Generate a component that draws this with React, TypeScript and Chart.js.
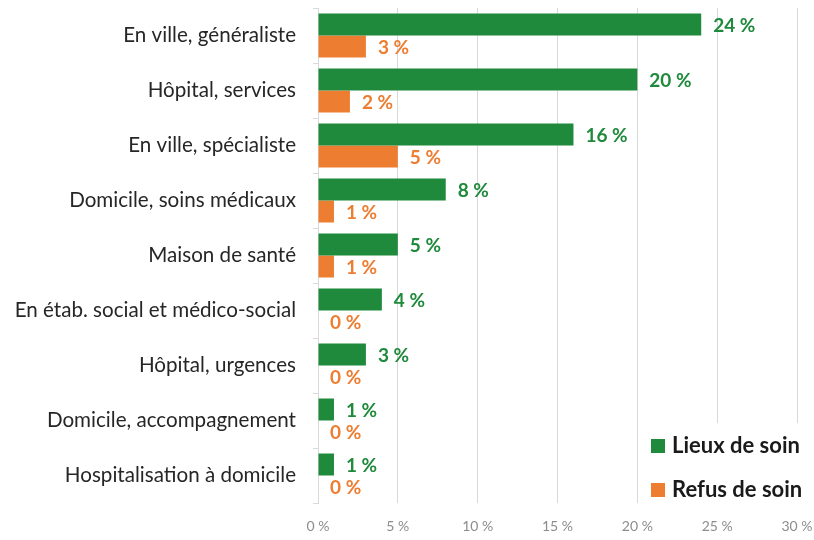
import React, { useEffect, useRef } from "react";
import { Chart, registerables } from "chart.js";

Chart.register(...registerables);

const categories = [
  "En ville, généraliste",
  "Hôpital, services",
  "En ville, spécialiste",
  "Domicile, soins médicaux",
  "Maison de santé",
  "En étab. social et médico-social",
  "Hôpital, urgences",
  "Domicile, accompagnement",
  "Hospitalisation à domicile",
];
const lieuxDeSoin = [24, 20, 16, 8, 5, 4, 3, 1, 1];
const refusDeSoin = [3, 2, 5, 1, 1, 0, 0, 0, 0];
const seriesNames = ["Lieux de soin", "Refus de soin"];
const GREEN = "#1f8a3b";
const ORANGE = "#ed7d31";
const FONT = "Lato, 'Open Sans', sans-serif";

const labelPlugin = {
  id: "valueLabels",
  afterDatasetsDraw(chart: any) {
    const ctx = chart.ctx;
    ctx.save();
    ctx.font = `bold 19px ${FONT}`;
    ctx.textBaseline = "middle";
    ctx.textAlign = "left";
    chart.data.datasets.forEach((ds: any, i: number) => {
      const meta = chart.getDatasetMeta(i);
      ctx.fillStyle = ds.backgroundColor;
      meta.data.forEach((el: any, j: number) => {
        ctx.fillText(`${ds.data[j]} %`, el.x + 12, el.y + 1);
      });
    });
    ctx.restore();
  },
};

const legendPlugin = {
  id: "insideLegend",
  afterDraw(chart: any) {
    const ctx = chart.ctx;
    const a = chart.chartArea;
    ctx.save();
    ctx.fillStyle = "#ffffff";
    ctx.fillRect(a.right - 158, a.bottom - 80, 178, 80);
    ctx.font = `bold 22px ${FONT}`;
    ctx.textBaseline = "middle";
    ctx.textAlign = "left";
    chart.data.datasets.forEach((ds: any, i: number) => {
      const y = a.bottom - 57 + i * 44;
      const x = a.right - 146;
      ctx.fillStyle = ds.backgroundColor;
      ctx.fillRect(x, y - 7, 14, 14);
      ctx.fillStyle = "#1a1a1a";
      ctx.fillText(ds.label, x + 21, y);
    });
    ctx.restore();
  },
};

const zeroPad = (s: any) => {
  s.paddingTop = 0;
  s.paddingBottom = 0;
  s.paddingLeft = 0;
  s.paddingRight = 0;
};

export default function App() {
  const ref = useRef<HTMLCanvasElement>(null);
  useEffect(() => {
    const chart = new Chart(ref.current!, {
      type: "bar",
      data: {
        labels: categories,
        datasets: [
          { label: seriesNames[0], data: lieuxDeSoin, backgroundColor: GREEN },
          { label: seriesNames[1], data: refusDeSoin, backgroundColor: ORANGE },
        ],
      },
      options: {
        indexAxis: "y",
        animation: false,
        responsive: false,
        maintainAspectRatio: false,
        layout: { padding: { top: 8, right: 17, left: 0, bottom: 0 } },
        datasets: { bar: { categoryPercentage: 0.8, barPercentage: 1.0 } },
        plugins: { legend: { display: false }, tooltip: { enabled: false } },
        scales: {
          x: {
            min: 0,
            max: 30,
            ticks: {
              stepSize: 5,
              callback: (v: any) => `${v} %`,
              color: "#8c8c8c",
              font: { family: FONT, size: 14 },
              padding: 15,
            },
            grid: { color: "#d9d9d9", drawTicks: false },
            border: { display: false },
            afterFit: (s: any) => {
              s.height = 37;
              zeroPad(s);
            },
          },
          y: {
            ticks: {
              color: "#262626",
              font: { family: FONT, size: 20.6 },
              padding: 17,
            },
            grid: {
              offset: true,
              drawOnChartArea: false,
              tickLength: 5,
              color: "#d9d9d9",
            },
            border: { color: "#d9d9d9" },
            afterFit: (s: any) => {
              s.width = 318;
              zeroPad(s);
            },
          },
        },
      },
      plugins: [labelPlugin, legendPlugin],
    } as any);
    return () => chart.destroy();
  }, []);
  return (
    <div style={{ position: "fixed", left: 0, top: 0, width: 814, height: 540, background: "#fff" }}>
      <canvas ref={ref} width={814} height={540} style={{ width: 814, height: 540 }} />
    </div>
  );
}
